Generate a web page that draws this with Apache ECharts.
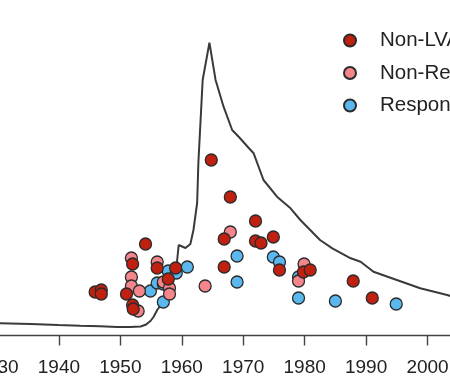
<!DOCTYPE html>
<html><head><meta charset="utf-8">
<script src="https://cdn.jsdelivr.net/npm/echarts@6/dist/echarts.min.js"></script>
<style>html,body{margin:0;padding:0;background:#fff}#c{width:450px;height:386px}</style>
</head><body><div id="c"></div>
<script>
// Curve (year, value)
var curveYears = [1930,1935.4,1939.9,1943.5,1946.7,1949.5,1951.6,1953.3,1954.2,1954.9,1955.4,1956.0,1957.0,1958.4,1959.2,1959.5,1959.8,1960.6,1961.4,1961.9,1962.5,1962.7,1963.4,1964.5,1965.5,1966.8,1968.2,1969.3,1970.9,1971.7,1973.3,1975.5,1977.7,1979.3,1980.9,1982.5,1984.5,1987.5,1989.1,1991.2,1995.0,1998.8,2003.2,2005.3];
var curveValues = [12.2,11.5,10.5,9.8,9.2,8.5,8.5,9,11,14.5,18.5,25.5,33.8,55.5,72.5,90.5,92.5,87.5,91.5,105.5,132.5,172.5,255.5,292.8,255.5,228.8,205.5,198.5,187.5,182.2,155.5,138.8,127.2,115.5,105.5,95.5,87.2,77.2,73.8,63.8,55.5,47.2,40.5,36.5];

var nonLvaYears = [1964.8,1967.9,1972.0,1966.9,1972.0,1972.9,1974.9,1966.9,1975.9,1979.8,1980.9,1987.9,1991.0,1954.1,1952.0,1956.0,1959.0,1957.8,1945.9,1946.9,1946.9,1951.0,1952.0,1952.1];
var nonLvaValues = [175.5,138.5,114.5,96.5,94.5,92.5,98.5,68.5,65.5,63.5,65.5,54.5,37.5,91.5,71.5,67.5,67.5,56.5,43.5,45.5,41.5,41.5,30.5,26.5];

var nonRespYears = [1967.9,1963.8,1979.9,1979.0,1951.8,1956.0,1951.8,1951.8,1953.1,1957.0,1958.0,1958.0,1952.9];
var nonRespValues = [103.5,49.5,71.5,54.5,77.5,73.5,58.5,49.5,44.5,53.5,47.5,41.5,24.5];

var respYears = [1969.0,1969.0,1974.9,1975.9,1979.0,1979.0,1985.0,1994.9,1954.9,1956.0,1957.0,1957.8,1959.1,1960.9,1957.0];
var respValues = [79.5,53.5,78.5,73.5,58.5,37.5,34.5,31.5,44.5,52.5,51.5,64.5,62.5,68.5,33.5];

var seriesNames = ['Non-LVA', 'Non-Responder', 'Responder'];
var xTicks = [1920,1930,1940,1950,1960,1970,1980,1990,2000,2010];

function pairs(xs, ys){ return xs.map(function(x,i){ return [x, ys[i]]; }); }

var chart = echarts.init(document.getElementById('c'), null, {renderer:'canvas'});
var dotStyle = function(c){ return {color:c, borderColor:'#2b2b2b', borderWidth:1.3, opacity:1}; };
chart.setOption({
  animation:false,
  backgroundColor:'#ffffff',
  textStyle:{fontFamily:'Liberation Sans, Arial, sans-serif'},
  grid:{left:-64, right:-39, top:35.5, bottom:50.5, containLabel:false, outerBoundsMode:'none'},
  xAxis:{type:'value', min:xTicks[0], max:xTicks[xTicks.length-1], interval:10,
    axisLine:{show:true, lineStyle:{color:'#444', width:1.4}},
    axisTick:{show:true, length:10, lineStyle:{color:'#444', width:1.4}},
    axisLabel:{color:'#222', fontSize:19, margin:23, fontFamily:'Liberation Sans, Arial, sans-serif', formatter:function(v){return String(v);}},
    splitLine:{show:false}},
  yAxis:{type:'value', min:0, max:300, show:false, splitLine:{show:false}},
  legend:{data:seriesNames, orient:'vertical', left:338, top:25, itemWidth:12, itemHeight:12, itemGap:11.5,
    icon:'circle', textStyle:{fontSize:20.5, color:'#222', fontFamily:'Liberation Sans, Arial, sans-serif', padding:[0,0,0,19]}},
  series:[
    {type:'line', name:'curve', data:pairs(curveYears, curveValues), showSymbol:false, symbol:'none',
      lineStyle:{color:'#3a3a3a', width:2}, z:1},
    {type:'scatter', name:seriesNames[2], data:pairs(respYears, respValues), symbolSize:12, itemStyle:dotStyle('#5bb8ee'), z:2},
    {type:'scatter', name:seriesNames[1], data:pairs(nonRespYears, nonRespValues), symbolSize:12, itemStyle:dotStyle('#f4868b'), z:3},
    {type:'scatter', name:seriesNames[0], data:pairs(nonLvaYears, nonLvaValues), symbolSize:12, itemStyle:dotStyle('#c0200f'), z:4}
  ]
});
</script></body></html>
